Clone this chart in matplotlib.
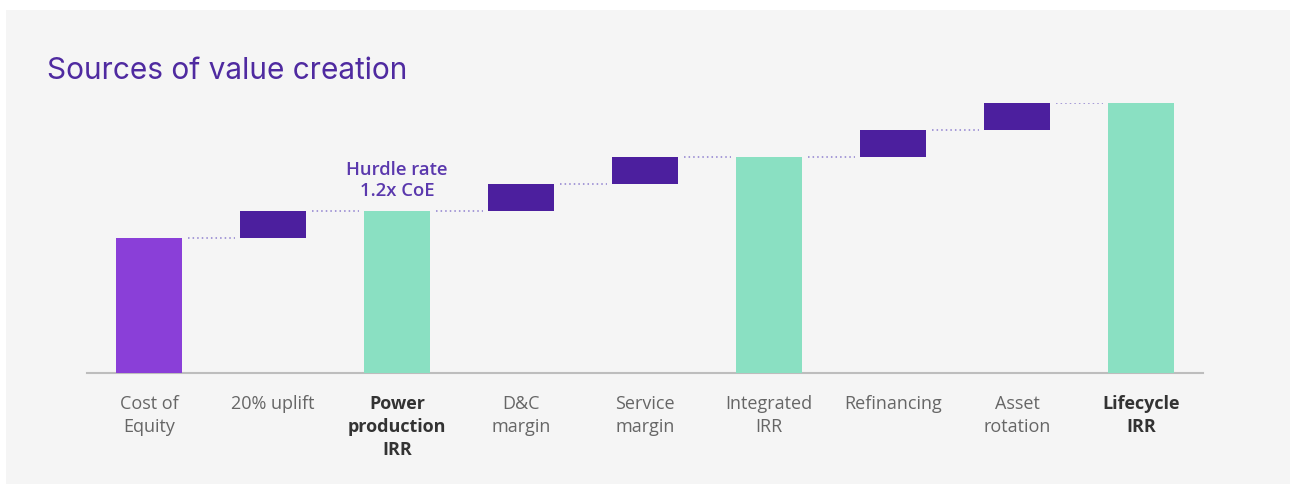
import matplotlib.pyplot as plt
from matplotlib.patches import Rectangle

# data
labels = ['Cost of\nEquity', '20% uplift', 'Power\nproduction\nIRR', 'D&C\nmargin',
          'Service\nmargin', 'Integrated\nIRR', 'Refinancing', 'Asset\nrotation',
          'Lifecycle\nIRR']
values = [10, 2, 12, 2, 2, 16, 2, 2, 20]
kinds = ['start', 'step', 'total', 'step', 'step', 'total', 'step', 'step', 'total']
bold_labels = ['Power\nproduction\nIRR', 'Lifecycle\nIRR']

colors = {'start': '#8a3fd8', 'step': '#4c1f9e', 'total': '#8ae0c2'}

plt.rcParams['font.family'] = ['Open Sans', 'DejaVu Sans']

fig = plt.figure(figsize=(12.92, 4.85), dpi=100)
fig.patch.set_facecolor('white')
fig.patches.append(Rectangle((6/1292, 0), 1284/1292, 474/485, transform=fig.transFigure,
                             facecolor='#f5f5f5', edgecolor='none', zorder=-10))

ax = fig.add_axes([87/1292, 111/485, 1116/1292, 270/485])
ax.set_facecolor('none')

# running level for the waterfall
bottoms = []
tops = []
level = 0
for v, k in zip(values, kinds):
    if k == 'step':
        bottoms.append(level)
        level = level + v
    else:
        bottoms.append(0)
        level = v
    tops.append(level)
heights = [t - b for t, b in zip(tops, bottoms)]

x = list(range(len(labels)))
w = 0.53
ax.bar(x, heights, bottom=bottoms, width=w, color=[colors[k] for k in kinds],
       edgecolor='none', zorder=3)

# dotted connectors
for i in range(len(x) - 1):
    ax.plot([x[i] + w/2 + 0.05, x[i+1] - w/2 - 0.04], [tops[i], tops[i]],
            linestyle=(0, (1, 2)), color='#8f80cf', lw=1.1, zorder=2)

ax.text(2, 12.9, 'Hurdle rate\n1.2x CoE', ha='center', va='bottom', fontsize=13.3,
        fontweight='semibold', color='#5a38ad', linespacing=1.2)

ax.set_xlim(-0.5, 8.5)
ax.set_ylim(0, 20)
for s in ['top', 'right', 'left']:
    ax.spines[s].set_visible(False)
ax.spines['bottom'].set_color('#bdbdbd')
ax.spines['bottom'].set_linewidth(1.5)
ax.set_yticks([])
ax.set_xticks(x)
ax.set_xticklabels(labels, fontsize=13, color='#666666', linespacing=1.35, va='top')
ax.tick_params(axis='x', length=0, pad=15)
for t in ax.get_xticklabels():
    if t.get_text() in bold_labels:
        t.set_fontweight('bold')
        t.set_color('#333333')

fig.text(47/1292, 1 - 71/485, 'Sources of value creation', fontsize=21.5,
         family=['Inter', 'DejaVu Sans'], color='#4f2aa0', va='center', ha='left')

fig.savefig('out.png', dpi=100)
